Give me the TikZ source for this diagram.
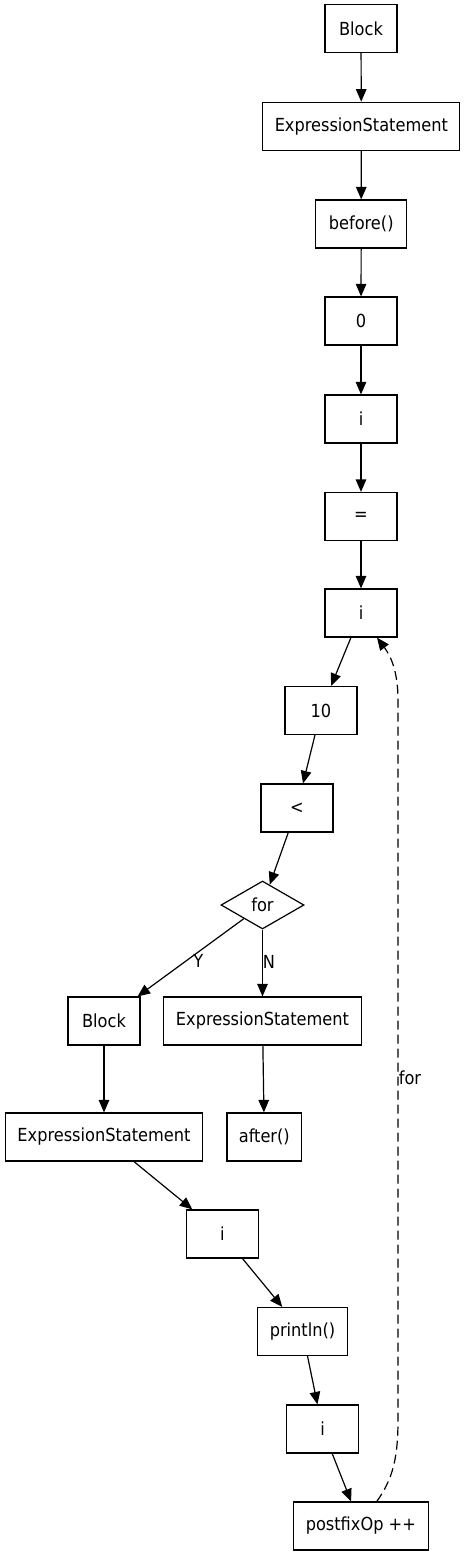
\documentclass[tikz,border=0pt]{standalone}
\usepackage{fontspec}
\setmainfont{DejaVu Sans Condensed}
\usetikzlibrary{arrows.meta,shapes.geometric}
\begin{document}
\begin{tikzpicture}[x=1pt,y=-1pt,
  box/.style={draw, rectangle, line width=1.2pt, minimum height=48pt, minimum width=#1, inner sep=0pt, font=\fontsize{18}{20}\selectfont},
  box/.default=72pt,
  dia/.style={draw, diamond, line width=1.2pt, minimum width=83pt, minimum height=48pt, inner sep=0pt, aspect=1.73, font=\fontsize{18}{20}\selectfont},
  conn/.style={-{Triangle[length=12.5pt,width=10.5pt]}, line width=1.2pt},
  lbl/.style={inner sep=0pt, font=\fontsize{18}{20}\selectfont}]
\useasboundingbox (0,0) rectangle (465,1556);
\node[box] (b1) at (361,28.5) {Block};
\node[box=197pt] (es1) at (361.3,126.3) {ExpressionStatement};
\node[box=91pt] (bef) at (361.2,224) {before()};
\node[box] (zero) at (361,321) {0};
\node[box] (i1) at (361,419) {i};
\node[box] (eq) at (361,516.5) {=};
\node[box] (i2) at (361,613) {i};
\node[box] (ten) at (321,710.5) {10};
\node[box] (lt) at (297,808) {<};
\node[dia] (for) at (262.5,905) {for};
\node[box] (b2) at (104,1021) {Block};
\node[box=198pt] (esn) at (262.5,1021) {ExpressionStatement};
\node[box=197pt] (esy) at (104,1137) {ExpressionStatement};
\node[box=74.5pt] (aft) at (264.3,1137) {after()};
\node[box] (i3) at (222.3,1234) {i};
\node[box=90.5pt] (pl) at (302.5,1331.5) {println()};
\node[box] (i4) at (322.5,1429) {i};
\node[box=135pt] (pf) at (360.8,1526) {postfixOp ++};
\draw[conn] (b1) -- (es1);
\draw[conn] (es1) -- (bef);
\draw[conn] (bef) -- (zero);
\draw[conn] (zero) -- (i1);
\draw[conn] (i1) -- (eq);
\draw[conn] (eq) -- (i2);
\draw[conn] (i2) -- (ten);
\draw[conn] (ten) -- (lt);
\draw[conn] (lt) -- (for);
\draw[conn] (for) -- node[pos=0.54, xshift=12pt, lbl] {Y} (b2);
\draw[conn] (for) -- node[pos=0.48, xshift=6.5pt, lbl] {N} (esn);
\draw[conn] (b2) -- (esy);
\draw[conn] (esn) -- (aft);
\draw[conn] (esy) -- (i3);
\draw[conn] (i3) -- (pl);
\draw[conn] (pl) -- (i4);
\draw[conn] (i4) -- (pf);
\draw[conn, dash pattern=on 9pt off 5pt] ([xshift=16pt]pf.north) .. controls (392,1480) and (398,1460) .. (398,1420) -- node[pos=0.475, xshift=12pt, lbl] {for} (398,700) .. controls (398,670) and (390,655) .. ([xshift=16pt]i2.south);
\end{tikzpicture}
\end{document}
